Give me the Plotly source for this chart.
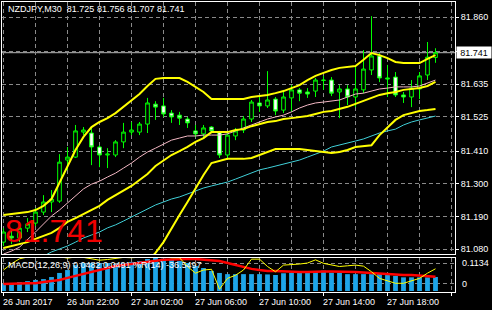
import plotly.graph_objects as go
import pandas as pd

# ---------------- data ----------------
symbol = "NZDJPY,M30"
times = pd.date_range("2017-06-26 18:00", periods=55, freq="30min")

opens = [81.104, 81.124, 81.118, 81.151, 81.168, 81.205, 81.239, 81.242, 81.380, 81.390,
         81.474, 81.471, 81.424, 81.397, 81.397, 81.441, 81.474, 81.474, 81.501, 81.568,
         81.562, 81.538, 81.531, 81.518, 81.478, 81.468, 81.491, 81.474, 81.397, 81.461,
         81.481, 81.518, 81.572, 81.562, 81.585, 81.548, 81.589, 81.616, 81.609, 81.612,
         81.649, 81.649, 81.609, 81.619, 81.592, 81.616, 81.683, 81.730, 81.656, 81.659,
         81.599, 81.592, 81.619, 81.666, 81.725]
highs = [81.151, 81.145, 81.171, 81.185, 81.219, 81.262, 81.279, 81.400, 81.424, 81.498,
         81.491, 81.488, 81.430, 81.420, 81.447, 81.505, 81.508, 81.508, 81.589, 81.578,
         81.589, 81.548, 81.542, 81.525, 81.498, 81.498, 81.494, 81.478, 81.474, 81.488,
         81.528, 81.582, 81.599, 81.679, 81.592, 81.616, 81.632, 81.622, 81.622, 81.656,
         81.663, 81.659, 81.632, 81.632, 81.693, 81.750, 81.864, 81.740, 81.700, 81.676,
         81.609, 81.649, 81.676, 81.777, 81.756]
lows = [81.091, 81.097, 81.104, 81.138, 81.158, 81.195, 81.205, 81.236, 81.346, 81.387,
        81.464, 81.363, 81.356, 81.353, 81.390, 81.420, 81.464, 81.464, 81.471, 81.515,
        81.525, 81.505, 81.498, 81.488, 81.457, 81.457, 81.471, 81.387, 81.387, 81.447,
        81.471, 81.508, 81.542, 81.555, 81.531, 81.538, 81.542, 81.578, 81.589, 81.592,
        81.616, 81.595, 81.521, 81.565, 81.558, 81.605, 81.666, 81.642, 81.592, 81.592,
        81.572, 81.558, 81.585, 81.649, 81.707]
closes = [81.138, 81.118, 81.151, 81.165, 81.205, 81.239, 81.249, 81.373, 81.390, 81.478,
          81.481, 81.424, 81.397, 81.400, 81.441, 81.474, 81.481, 81.501, 81.572, 81.558,
          81.535, 81.525, 81.521, 81.505, 81.468, 81.488, 81.478, 81.397, 81.464, 81.478,
          81.518, 81.575, 81.562, 81.582, 81.545, 81.592, 81.616, 81.605, 81.602, 81.649,
          81.648, 81.605, 81.619, 81.592, 81.619, 81.686, 81.730, 81.656, 81.653, 81.599,
          81.592, 81.622, 81.663, 81.726, 81.741]

bb_upper = [81.195, 81.199, 81.202, 81.205, 81.212, 81.226, 81.249, 81.303, 81.357, 81.414,
            81.458, 81.491, 81.508, 81.521, 81.538, 81.559, 81.579, 81.602, 81.629, 81.653,
            81.656, 81.656, 81.656, 81.643, 81.626, 81.609, 81.585, 81.585, 81.585, 81.585,
            81.585, 81.592, 81.595, 81.599, 81.605, 81.612, 81.622, 81.632, 81.649, 81.663,
            81.673, 81.683, 81.690, 81.693, 81.696, 81.717, 81.740, 81.733, 81.723, 81.710,
            81.706, 81.706, 81.706, 81.720, 81.733]
bb_mid = [81.084, 81.091, 81.098, 81.104, 81.115, 81.125, 81.135, 81.152, 81.172, 81.185,
          81.199, 81.212, 81.226, 81.246, 81.262, 81.279, 81.293, 81.313, 81.333, 81.360,
          81.380, 81.397, 81.410, 81.424, 81.441, 81.454, 81.474, 81.474, 81.474, 81.481,
          81.484, 81.494, 81.501, 81.508, 81.511, 81.518, 81.521, 81.525, 81.528, 81.535,
          81.542, 81.545, 81.552, 81.559, 81.569, 81.579, 81.589, 81.599, 81.605, 81.609,
          81.616, 81.619, 81.622, 81.629, 81.643]
bb_lower = [None, None, None, None, None, None, None, None, None, None,
            None, None, None, None, None, None, None, None, 81.037, 81.068,
            81.104, 81.152, 81.195, 81.239, 81.286, 81.330, 81.370, 81.377, 81.384, 81.384,
            81.384, 81.387, 81.397, 81.407, 81.417, 81.417, 81.417, 81.417, 81.414, 81.410,
            81.407, 81.404, 81.407, 81.414, 81.424, 81.427, 81.430, 81.464, 81.488, 81.515,
            81.531, 81.538, 81.545, 81.548, 81.552]
ma_pink = [81.064, 81.074, 81.087, 81.111, 81.138, 81.165, 81.192, 81.212, 81.236, 81.262,
           81.283, 81.299, 81.309, 81.323, 81.336, 81.353, 81.370, 81.390, 81.407, 81.420,
           81.434, 81.447, 81.454, 81.461, 81.461, 81.464, 81.464, 81.464, 81.468, 81.478,
           81.488, 81.498, 81.508, 81.518, 81.525, 81.531, 81.542, 81.555, 81.565, 81.572,
           81.575, 81.578, 81.582, 81.592, 81.602, 81.605, 81.612, 81.619, 81.622, 81.626,
           81.626, 81.626, 81.629, 81.639, 81.649]
ma_cyan = [None, None, None, None, None, 81.057, 81.071, 81.081, 81.091, 81.104,
           81.118, 81.128, 81.138, 81.152, 81.162, 81.175, 81.188, 81.202, 81.215, 81.229,
           81.239, 81.249, 81.256, 81.266, 81.276, 81.286, 81.293, 81.299, 81.306, 81.316,
           81.326, 81.336, 81.347, 81.353, 81.360, 81.367, 81.373, 81.380, 81.390, 81.400,
           81.410, 81.424, 81.430, 81.437, 81.444, 81.451, 81.461, 81.471, 81.478, 81.484,
           81.498, 81.508, 81.515, 81.521, 81.528]

macd_main = [0.024, 0.027, 0.031, 0.034, 0.038, 0.041, 0.048, 0.062, 0.072, 0.089,
             0.096, 0.096, 0.096, 0.096, 0.093, 0.096, 0.100, 0.103, 0.110, 0.1134,
             0.111, 0.110, 0.103, 0.096, 0.086, 0.079, 0.069, 0.062, 0.058, 0.058,
             0.058, 0.058, 0.058, 0.057, 0.055, 0.061, 0.063, 0.063, 0.066, 0.066,
             0.070, 0.063, 0.063, 0.058, 0.058, 0.058, 0.058, 0.061, 0.055, 0.052,
             0.047, 0.047, 0.047, 0.047, 0.0482]
macd_signal = [0.024, 0.024, 0.026, 0.027, 0.027, 0.031, 0.034, 0.038, 0.045, 0.052,
               0.058, 0.065, 0.072, 0.079, 0.086, 0.089, 0.093, 0.096, 0.100, 0.103,
               0.107, 0.108, 0.110, 0.110, 0.110, 0.108, 0.107, 0.103, 0.096, 0.089,
               0.082, 0.076, 0.072, 0.069, 0.069, 0.067, 0.065, 0.065, 0.065, 0.067,
               0.067, 0.067, 0.067, 0.065, 0.065, 0.064, 0.062, 0.060, 0.058, 0.057,
               0.055, 0.055, 0.053, 0.052, 0.0491]
williams_r = [-40, -22, -8, -3, -2, -2, -3, -2, -6, -3,
              -4, -8, -12, -10, -6, -4, -5, -3, -2, -4,
              -3, -5, -5, -30, -49, -40, -38, -95, -64, -55,
              -40, -9, -9, -30, -45, -26, -25, -23, -20, -11,
              -21, -25, -30, -28, -26, -29, -45, -64, -72, -78,
              -78, -70, -64, -49, -36.5497]

price_ticks = [81.080, 81.190, 81.300, 81.410, 81.525, 81.635, 81.745, 81.860]
price_tick_text = ["81.080", "81.190", "81.300", "81.410", "81.525", "81.635", "", "81.860"]
wpr_levels = [-20, -80]
macd_scale_max = 0.1134
label_every = 8  # bars between time labels

# ---------------- geometry ----------------
W, H = 492, 310
def fx(p):
    return p / W
def fy(p):
    return 1 - p / H

bar = pd.Timedelta(minutes=30)
x_left = times[0] - 0.1875 * bar
x_right = times[0] + 56.4375 * bar
FONT = "Liberation Sans, Arial, sans-serif"
GRID = "#8a8a8a"
GDASH = "4px,3px"

fig = go.Figure()

fig.add_trace(go.Candlestick(
    x=times, open=opens, high=highs, low=lows, close=closes,
    increasing=dict(line=dict(color="#00ff00", width=1), fillcolor="#000000"),
    decreasing=dict(line=dict(color="#00ff00", width=1), fillcolor="#ffffff"),
    whiskerwidth=0, xaxis="x", yaxis="y", showlegend=False, hoverinfo="skip"))

for vals, col, w in [(ma_cyan, "#40d0d8", 1), (ma_pink, "#f4b8c4", 1),
                     (bb_upper, "#ffff00", 2), (bb_mid, "#ffff00", 2), (bb_lower, "#ffff00", 2)]:
    fig.add_trace(go.Scatter(x=times, y=vals, mode="lines", line=dict(color=col, width=w),
                             xaxis="x", yaxis="y", showlegend=False, hoverinfo="skip"))

fig.add_trace(go.Bar(x=times, y=macd_main, marker=dict(color="#1ea5e8", line=dict(width=0)),
                     width=0.6 * 1800000, xaxis="x2", yaxis="y2", showlegend=False, hoverinfo="skip"))
fig.add_trace(go.Scatter(x=times, y=macd_signal, mode="lines", line=dict(color="#ff0000", width=2.5),
                         xaxis="x2", yaxis="y2", showlegend=False, hoverinfo="skip"))
fig.add_trace(go.Scatter(x=times, y=williams_r, mode="lines", line=dict(color="#ffff00", width=1),
                         xaxis="x2", yaxis="y3", showlegend=False, hoverinfo="skip"))

axis_common = dict(showline=True, mirror=True, linecolor="#ffffff", linewidth=1, zeroline=False,
                   fixedrange=True)

fig.update_layout(
    width=W, height=H, margin=dict(l=0, r=0, t=0, b=0),
    paper_bgcolor="#000000", plot_bgcolor="#000000",
    showlegend=False, hovermode=False, boxgap=0.35,
    xaxis=dict(domain=[fx(2), fx(455)], range=[x_left, x_right], type="date", anchor="y",
               showgrid=True, gridcolor=GRID, griddash=GDASH, gridwidth=1,
               tick0=times[0], dtick=2 * 3600000, showticklabels=False, ticks="",
               rangeslider=dict(visible=False), **axis_common),
    yaxis=dict(domain=[fy(254), fy(2)], range=[81.0641, 81.9115], side="right", anchor="x",
               tickvals=price_ticks, ticktext=price_tick_text, ticks="outside", ticklen=3,
               tickcolor="#ffffff", tickfont=dict(color="#ffffff", size=9, family=FONT),
               showgrid=True, gridcolor=GRID, griddash=GDASH, **axis_common),
    xaxis2=dict(domain=[fx(2), fx(455)], range=[x_left, x_right], type="date", anchor="y2",
                showgrid=True, gridcolor=GRID, griddash=GDASH,
                tick0=times[0], dtick=4 * 3600000, ticks="outside", ticklen=3, tickcolor="#ffffff",
                showticklabels=False,
                minor=dict(dtick=2 * 3600000, showgrid=True, gridcolor=GRID, griddash=GDASH, ticks=""),
                **axis_common),
    yaxis2=dict(domain=[fy(292), fy(258)], range=[-0.0034, macd_scale_max], anchor="x2",
                showgrid=False, showticklabels=False, ticks="", **axis_common),
    yaxis3=dict(overlaying="y2", range=[-102.9, -5.7], anchor="x2", side="right",
                tickvals=wpr_levels, showgrid=True, gridcolor=GRID, griddash=GDASH,
                showticklabels=False, ticks="", zeroline=False, showline=False, fixedrange=True),
)

# current bid line
fig.add_shape(type="line", xref="paper", x0=fx(2), x1=fx(455), yref="y", y0=closes[-1], y1=closes[-1],
              line=dict(color="#b8b8b8", width=1), layer="below")

nb = "\u00a0"
header = f"{symbol}{nb}{nb}{opens[-1]:.3f} {highs[-1]:.3f} {lows[-1]:.3f} {closes[-1]:.3f}"
ann = []
ann.append(dict(text=header, xref="paper", yref="paper", x=fx(6), y=fy(9), xanchor="left",
                yanchor="middle", showarrow=False, font=dict(color="#ffffff", size=9, family=FONT)))
ann.append(dict(text=f"{closes[-1]:.3f}", xref="paper", yref="paper", x=fx(3), y=fy(231),
                xanchor="left", yanchor="middle", showarrow=False,
                font=dict(color="#f00000", size=32, family=FONT)))
ann.append(dict(text=f"{closes[-1]:.3f}", xref="paper", yref="y", x=fx(456), y=closes[-1],
                xanchor="left", yanchor="middle", showarrow=False, bgcolor="#ffffff",
                width=34, height=11, borderpad=0, align="center",
                font=dict(color="#000000", size=9, family=FONT)))
macd_text = (f"MACD(12,26,9) {macd_main[-1]:.4f} {macd_signal[-1]:.4f} "
             f"%R(14) {williams_r[-1]:.4f}")
ann.append(dict(text=macd_text, xref="paper", yref="paper", x=fx(6), y=fy(265), xanchor="left",
                yanchor="middle", showarrow=False, font=dict(color="#ffffff", size=9, family=FONT)))
ann.append(dict(text=f"{macd_scale_max:.4f}", xref="paper", yref="paper", x=fx(460), y=fy(263),
                xanchor="left", yanchor="middle", showarrow=False,
                font=dict(color="#ffffff", size=9, family=FONT)))
ann.append(dict(text="0", xref="paper", yref="paper", x=fx(460), y=fy(284),
                xanchor="left", yanchor="middle", showarrow=False,
                font=dict(color="#ffffff", size=9, family=FONT)))

for k in range(0, len(times), label_every):
    t = times[k]
    lab = t.strftime("%d %b %Y") if k == 0 else t.strftime("%d %b %H:%M")
    ann.append(dict(text=lab, xref="x2", yref="paper", x=t, y=fy(302), xanchor="left",
                    yanchor="middle", xshift=-3, showarrow=False,
                    font=dict(color="#ffffff", size=9, family=FONT)))

fig.update_layout(annotations=ann)
fig.write_html("out.html")
